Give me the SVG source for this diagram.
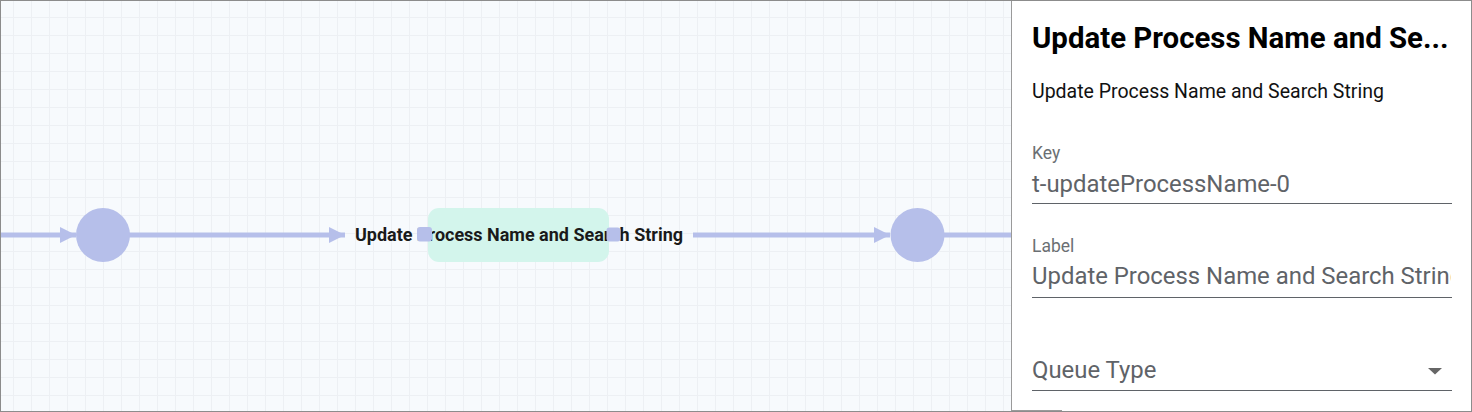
<svg xmlns="http://www.w3.org/2000/svg" width="1472" height="412" viewBox="0 0 1472 412">
  <defs>
    <pattern id="grid" x="13" y="17" width="18" height="18" patternUnits="userSpaceOnUse">
      <path d="M0.5 0 V18 M0 0.5 H18" stroke="#edf0f4" stroke-width="1" fill="none"/>
    </pattern>
    <marker id="arrow" markerWidth="16" markerHeight="16" refX="16" refY="8" orient="auto" markerUnits="userSpaceOnUse">
      <path d="M0 0 L16 8 L0 16 Z" fill="#b6bfea"/>
    </marker>
    <clipPath id="canvasClip"><rect x="0" y="0" width="1011" height="412"/></clipPath>
  </defs>
  <style>
    .edge { stroke: #b6bfea; stroke-width: 5; fill: none; }
    .event { fill: #b6bfea; }
    .port { fill: #b6bfea; }
    .task { fill: #d3f5ec; }
    .nodelabel { font-family: Roboto, "Liberation Sans", sans-serif; font-weight: bold; font-size: 18px; fill: #1a1a1a; }
    .title { font-family: Roboto, "Liberation Sans", sans-serif; font-weight: bold; font-size: 29.4px; fill: #000000; }
    .sub { font-family: Roboto, "Liberation Sans", sans-serif; font-size: 19.5px; fill: #111111; }
    .flabel { font-family: Roboto, "Liberation Sans", sans-serif; font-size: 17.5px; fill: #6b6f73; }
    .fvalue { font-family: Roboto, "Liberation Sans", sans-serif; font-size: 23.9px; fill: #5f6368; }
    .uline { stroke: #5f6368; stroke-width: 1.2; }
  </style>

  <rect x="0" y="0" width="1472" height="412" fill="#ffffff"/>
  <g clip-path="url(#canvasClip)">
    <rect x="0" y="0" width="1011" height="412" fill="#f7fafd"/>
    <rect x="0" y="0" width="1011" height="412" fill="url(#grid)"/>

    <g id="connectors">
      <line class="edge" x1="0" y1="235" x2="76" y2="235" marker-end="url(#arrow)"/>
      <line class="edge" x1="129" y1="235" x2="345" y2="235" marker-end="url(#arrow)"/>
      <line class="edge" x1="693" y1="235" x2="890" y2="235" marker-end="url(#arrow)"/>
      <line class="edge" x1="944" y1="235" x2="1011" y2="235"/>
    </g>

    <g id="start-event">
      <circle class="event" cx="103" cy="235" r="27"/>
    </g>

    <g id="task-updateProcessName">
      <rect class="task" x="428" y="208" width="181" height="54" rx="11"/>
      <text class="nodelabel" x="519" y="241" text-anchor="middle" textLength="328" lengthAdjust="spacingAndGlyphs">Update Process Name and Search String</text>
      <rect class="port" x="417" y="227" width="15" height="14.5" rx="3"/>
      <rect class="port" x="606.5" y="227.5" width="14" height="14" rx="3"/>
    </g>

    <g id="end-event">
      <circle class="event" cx="917.5" cy="235" r="27"/>
    </g>
  </g>

  <g id="properties-panel">
    <rect x="1011" y="0" width="461" height="412" fill="#ffffff"/>
    <line x1="1011.5" y1="0" x2="1011.5" y2="412" stroke="#9a9a9a" stroke-width="1"/>
    <text class="title" x="1032" y="48">Update Process Name and Se...</text>
    <text class="sub" x="1032" y="98">Update Process Name and Search String</text>

    <text class="flabel" x="1032" y="159">Key</text>
    <text class="fvalue" x="1032" y="192">t-updateProcessName-0</text>
    <line class="uline" x1="1032" y1="203.5" x2="1452" y2="203.5"/>

    <text class="flabel" x="1032" y="252">Label</text>
    <svg x="1032" y="250" width="419" height="50" viewBox="1032 250 419 50" overflow="hidden">
      <text class="fvalue" x="1032" y="284">Update Process Name and Search String</text>
    </svg>
    <line class="uline" x1="1032" y1="297.5" x2="1452" y2="297.5"/>

    <text class="fvalue" x="1032" y="378">Queue Type</text>
    <path d="M1428 368 L1442 368 L1435 374.5 Z" fill="#666666"/>
    <line class="uline" x1="1032" y1="390.5" x2="1452" y2="390.5"/>
  </g>

  <line x1="1011" y1="410.5" x2="1062" y2="410.5" stroke="#9a9a9a" stroke-width="1"/>
  <rect x="0.5" y="0.5" width="1471" height="411" fill="none" stroke="#8c8c8c" stroke-width="1"/>
</svg>
